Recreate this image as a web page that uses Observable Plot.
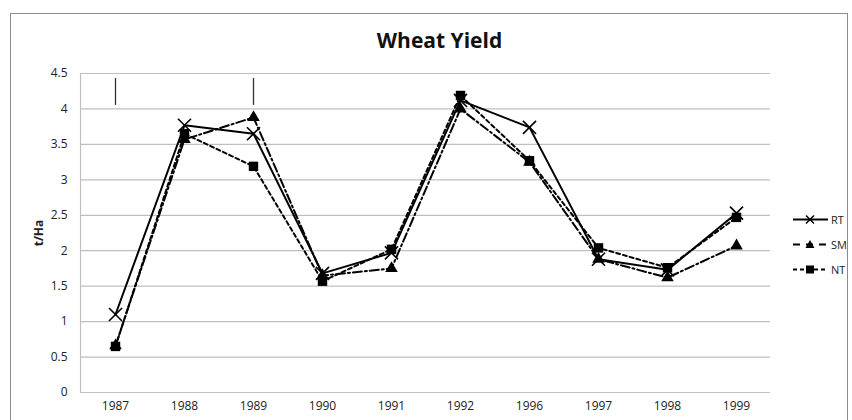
<!DOCTYPE html>
<html>
<head>
<meta charset="utf-8">
<script src="https://cdn.jsdelivr.net/npm/d3@7"></script>
<script src="https://cdn.jsdelivr.net/npm/@observablehq/plot@0.6"></script>
<style>
  html, body { margin: 0; padding: 0; background: #fff; }
  #wrap { position: relative; width: 852px; height: 420px; overflow: hidden; font-family: "Open Sans", "Liberation Sans", sans-serif; }
  #frame { position: absolute; left: 10px; top: 13px; width: 838px; height: 420px; border: 1px solid #8c8c8c; box-sizing: border-box; }
  #chart { position: absolute; left: 0; top: 0; }
  #legend { position: absolute; left: 792px; top: 207px; font-size: 11px; color: #222; white-space: nowrap; }
  #legend div { display: flex; align-items: center; height: 25px; }
  #legend span { margin-left: 3px; }
</style>
</head>
<body>
<div id="wrap">
  <div id="frame"></div>
  <div id="chart"></div>
  <div id="legend"></div>
</div>
<script>
const years = ["1987","1988","1989","1990","1991","1992","1996","1997","1998","1999"];
const rt = [1.10, 3.77, 3.65, 1.68, 1.97, 4.12, 3.74, 1.88, 1.73, 2.53];
const sm = [0.66, 3.57, 3.88, 1.65, 1.75, 4.00, 3.25, 1.88, 1.62, 2.07];
const nt = [0.65, 3.65, 3.19, 1.57, 2.02, 4.19, 3.27, 2.04, 1.76, 2.47];
const seriesNames = ["RT", "SM", "NT"];
const yTicks = [0, 0.5, 1, 1.5, 2, 2.5, 3, 3.5, 4, 4.5];
const errYears = ["1987", "1989"];
const errLow = [4.05, 4.05];
const errHigh = [4.43, 4.43];

const seriesVals = {RT: rt, SM: sm, NT: nt};
const data = seriesNames.flatMap(s => years.map((yr, i) => ({series: s, year: yr, value: seriesVals[s][i]})));
const errData = errYears.map((yr, i) => ({year: yr, lo: errLow[i], hi: errHigh[i]}));

const style = {
  RT: {dash: null, symbol: "times", r: 6},
  SM: {dash: "9,3,2,3", symbol: "triangle2", r: 6},
  NT: {dash: "4,3", symbol: "square2", r: 6}
};

const marks = [
  Plot.ruleY(yTicks, {stroke: "#bfbfbf", strokeWidth: 1.2}),
  Plot.ruleX(errData, {x: "year", y1: "lo", y2: "hi", stroke: "#333", strokeWidth: 1.3}),
];
for (const s of seriesNames) {
  const d = data.filter(r => r.series === s);
  marks.push(Plot.line(d, {x: "year", y: "value", stroke: "#000", strokeWidth: 2, strokeDasharray: style[s].dash}));
}
for (const s of seriesNames) {
  const d = data.filter(r => r.series === s);
  if (style[s].symbol === "times") {
    marks.push(Plot.dot(d, {x: "year", y: "value", symbol: "times", r: style[s].r, stroke: "#000", strokeWidth: 1.6, fill: "none"}));
  } else {
    marks.push(Plot.dot(d, {x: "year", y: "value", symbol: style[s].symbol, r: style[s].r, fill: "#000", stroke: "none"}));
  }
}
marks.push(Plot.text(["Wheat Yield"], {frameAnchor: "top", dx: 14, dy: -40, fontSize: 21, fontWeight: "bold", fill: "#111"}));

const chart = Plot.plot({
  width: 852,
  height: 420,
  marginLeft: 80,
  marginRight: 82,
  marginTop: 73,
  marginBottom: 28,
  style: {fontFamily: "'Open Sans', 'Liberation Sans', sans-serif", fontSize: "12px", background: "transparent", color: "#222"},
  x: {type: "point", domain: years, padding: 0.5, align: 0.5, label: null},
  y: {domain: [0, 4.5], label: "t/Ha"},
  marks: [
    ...marks,
    Plot.axisX({tickSize: 0, tickPadding: 9, label: null, fontSize: 12}),
    Plot.axisY({ticks: yTicks, tickFormat: d => String(d), tickSize: 0, tickPadding: 13, label: "t/Ha", labelAnchor: "center", labelArrow: "none", labelOffset: 46, fontSize: 12}),
    Plot.frame({anchor: "left", stroke: "#bfbfbf", strokeWidth: 1.2})
  ]
});
chart.querySelectorAll("g[aria-label='y-axis label'] text").forEach(t => { t.setAttribute("font-weight", "bold"); t.setAttribute("font-size", "12"); });
document.getElementById("chart").appendChild(chart);

// legend
const leg = document.getElementById("legend");
for (const s of seriesNames) {
  const row = document.createElement("div");
  const st = style[s];
  let marker = "";
  if (st.symbol === "times") marker = `<path d="M14,2.5 L22,10.5 M22,2.5 L14,10.5" stroke="#000" stroke-width="1.5"/>`;
  else if (st.symbol === "triangle2") marker = `<path d="M18,2 L22.5,10 L13.5,10 Z" fill="#000"/>`;
  else marker = `<rect x="14" y="2.5" width="8" height="8" fill="#000"/>`;
  row.innerHTML = `<svg width="36" height="13"><line x1="1" y1="6.5" x2="36" y2="6.5" stroke="#000" stroke-width="2" ${st.dash ? `stroke-dasharray="${s === 'SM' ? '7,6' : '4,3'}"` : ""}/>${marker}</svg><span>${s}</span>`;
  leg.appendChild(row);
}
</script>
</body>
</html>
